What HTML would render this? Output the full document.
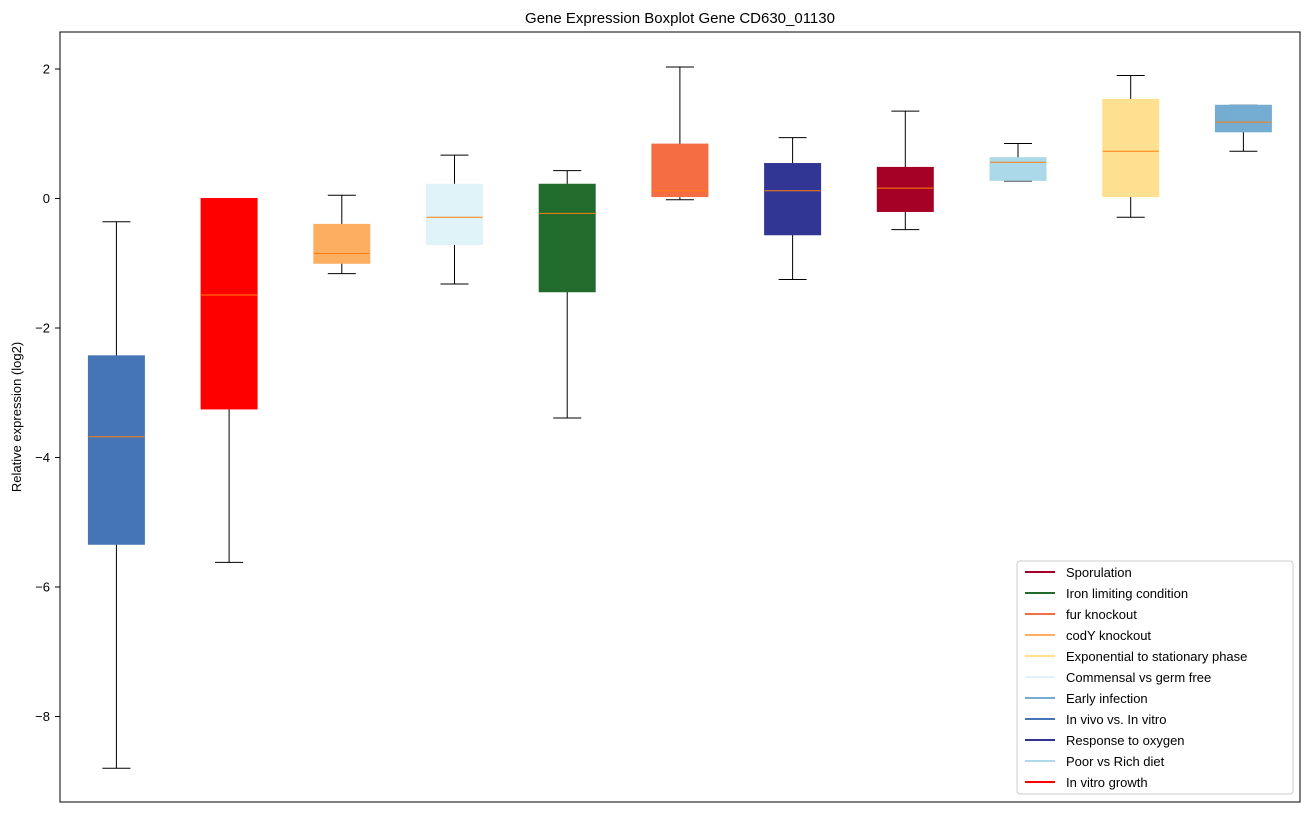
<!DOCTYPE html>
<html><head><meta charset="utf-8"><style>
body{margin:0;background:#fff;font-family:"Liberation Sans","DejaVu Sans",sans-serif;}
</style></head><body>
<svg id="chart" width="1309" height="812" xmlns="http://www.w3.org/2000/svg" font-family="Liberation Sans, DejaVu Sans, sans-serif">
<text x="680" y="23" text-anchor="middle" font-size="15">Gene Expression Boxplot Gene CD630_01130</text>
<text transform="translate(21,417) rotate(-90)" text-anchor="middle" font-size="13">Relative expression (log2)</text>
<g id="plot"></g>
<rect x="60" y="32" width="1240" height="770" fill="none" stroke="#000" stroke-width="1"/>
<g id="legend"></g>
</svg>
<script>
const groups=["In vivo vs. In vitro","In vitro growth","codY knockout","Commensal vs germ free","Iron limiting condition","fur knockout","Response to oxygen","Sporulation","Poor vs Rich diet","Exponential to stationary phase","Early infection"];
const colors=["#4575b4","#ff0000","#fdae61","#e0f3f8","#216b2c","#f46d43","#313695","#a50026","#abd9e9","#fee090","#74add1"];
const whiskerHigh=[-0.36,0.0,0.05,0.67,0.43,2.03,0.94,1.35,0.85,1.9,1.44];
const q3=[-2.43,0.0,-0.4,0.22,0.22,0.84,0.54,0.48,0.63,1.53,1.44];
const medians=[-3.68,-1.49,-0.85,-0.29,-0.23,0.12,0.12,0.16,0.56,0.73,1.18];
const q1=[-5.34,-3.25,-1.0,-0.71,-1.44,0.03,-0.56,-0.2,0.28,0.03,1.03];
const whiskerLow=[-8.8,-5.62,-1.16,-1.32,-3.39,-0.02,-1.25,-0.48,0.27,-0.29,0.73];
const yTicks=[2,0,-2,-4,-6,-8];
const legendLabels=["Sporulation","Iron limiting condition","fur knockout","codY knockout","Exponential to stationary phase","Commensal vs germ free","Early infection","In vivo vs. In vitro","Response to oxygen","Poor vs Rich diet","In vitro growth"];
const legendColors=["#a50026","#216b2c","#f46d43","#fdae61","#fee090","#e0f3f8","#74add1","#4575b4","#313695","#abd9e9","#ff0000"];
const NS="http://www.w3.org/2000/svg";
const y=v=>198.5-v*64.75;
const x=i=>116.4+i*112.7;
const plot=document.getElementById('plot');
function mk(tag,attrs,parent){const e=document.createElementNS(NS,tag);for(const k in attrs)e.setAttribute(k,attrs[k]);parent.appendChild(e);return e;}
yTicks.forEach(t=>{
  const g=mk('g',{},plot);
  
  
  mk('line',{x1:55,x2:60,y1:y(t),y2:y(t),stroke:'#000'},g);
  const tx=mk('text',{x:50,y:y(t)+4.5,'text-anchor':'end','font-size':13},g);
  tx.textContent=t<0?'\u2212'+(-t):String(t);
});
groups.forEach((gname,i)=>{
  const g=mk('g',{},plot);
  
  
  const cx=x(i),w=56;
  mk('line',{x1:cx,x2:cx,y1:y(whiskerHigh[i]),y2:y(q3[i]),stroke:'#000'},g);
  mk('line',{x1:cx,x2:cx,y1:y(q1[i]),y2:y(whiskerLow[i]),stroke:'#000'},g);
  mk('line',{x1:cx-14,x2:cx+14,y1:y(whiskerHigh[i]),y2:y(whiskerHigh[i]),stroke:'#000'},g);
  mk('line',{x1:cx-14,x2:cx+14,y1:y(whiskerLow[i]),y2:y(whiskerLow[i]),stroke:'#000'},g);
  mk('rect',{x:cx-w/2,y:y(q3[i]),width:w,height:Math.max(1,y(q1[i])-y(q3[i])),fill:colors[i],stroke:colors[i]},g);
  mk('line',{x1:cx-w/2,x2:cx+w/2,y1:y(medians[i]),y2:y(medians[i]),stroke:'#ff7f0e'},g);
});
const lg=document.getElementById('legend');
mk('rect',{x:1017,y:561,width:276,height:233,rx:3,fill:'#fff',stroke:'#ccc'},lg);
legendLabels.forEach((l,i)=>{
  const g=mk('g',{},lg);
  
  
  const yy=572+i*21;
  mk('line',{x1:1025,x2:1055,y1:yy,y2:yy,stroke:legendColors[i],'stroke-width':2},g);
  const t=mk('text',{x:1066,y:yy+5,'font-size':13},g);t.textContent=l;
});
</script>
</body></html>
